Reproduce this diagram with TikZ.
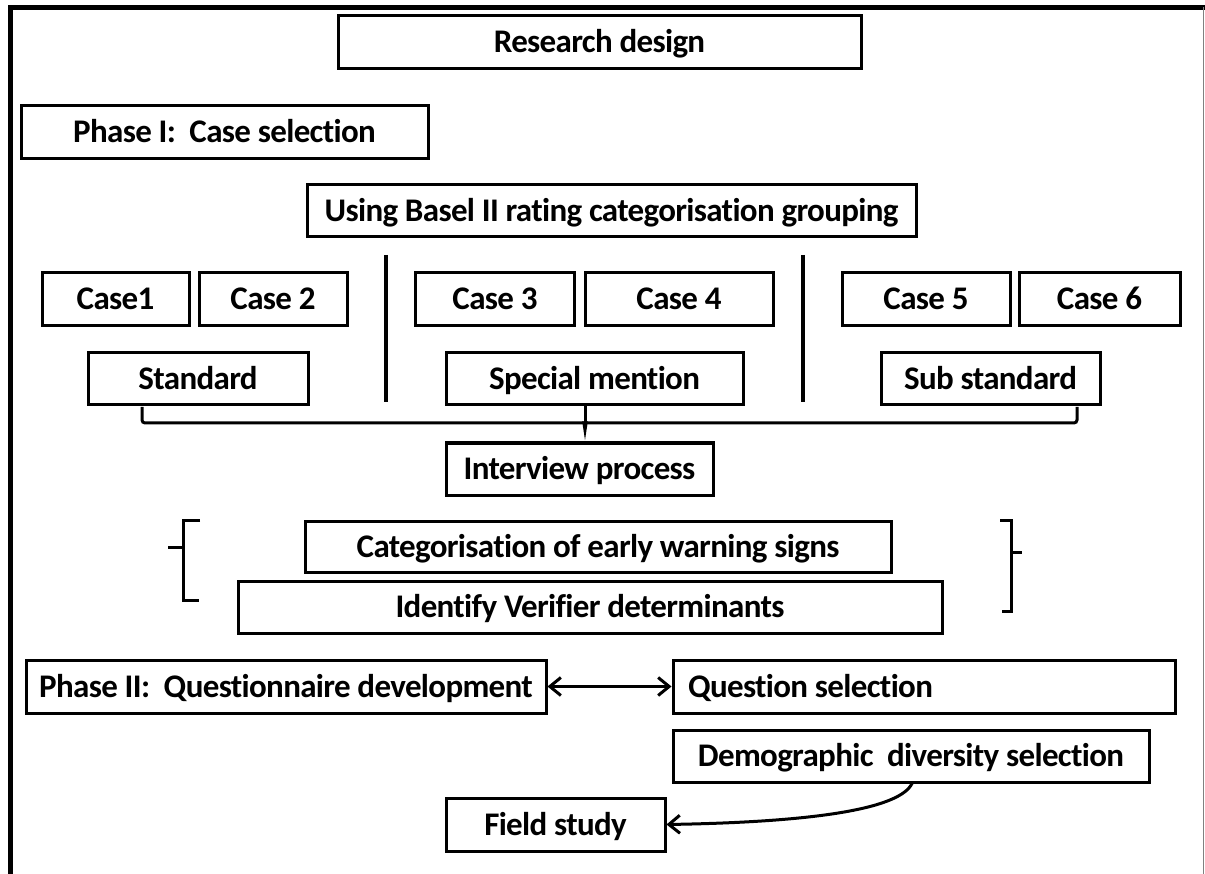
\documentclass[tikz,border=0pt]{standalone}
\usepackage{fontspec}
\setmainfont[Ligatures=CommonOff, LetterSpace=-2]{Carlito}
\usetikzlibrary{arrows.meta}

\tikzset{every picture/.style={line width=3pt}}
\tikzset{
  box/.style={draw, line width=3pt, inner sep=0pt, text height=21pt, text depth=0pt,
    font=\bfseries\fontsize{33}{39}\selectfont},
  bar/.style={line width=3.5pt},
  barb/.tip={Straight Barb[length=11pt,width=18pt,line width=3pt]}
}

\begin{document}
\begin{tikzpicture}[x=1pt,y=1pt,yscale=-1,xscale=1]
\useasboundingbox (0,0) rectangle (1205,874);

% frame
\draw [line width=5pt] (10.5,874) -- (10.5,7.5) -- (1205,7.5) ;
\draw [gray, line width=1.5pt] (1203.5,7.5) -- (1203.5,874) ;

% Phase I
\node [box, minimum width=523pt, minimum height=53pt] (rd) at (599.5,42.5) {Research design};
\node [box, minimum width=407pt, minimum height=53pt] (ph1) at (224.5,132.5) {Phase I:\ \ Case selection};
\node [box, minimum width=609pt, minimum height=52pt] (basel) at (611.5,211) {Using Basel II rating categorisation grouping};

% cases
\node [box, minimum width=147pt, minimum height=53pt] (c1) at (115.5,299.5) {Case1};
\node [box, minimum width=148pt, minimum height=53pt] (c2) at (273,299.5) {Case 2};
\node [box, minimum width=159pt, minimum height=53pt] (c3) at (495,299.5) {Case 3};
\node [box, minimum width=188pt, minimum height=53pt] (c4) at (679,299.5) {Case 4};
\node [box, minimum width=168pt, minimum height=53pt] (c5) at (926,299.5) {Case 5};
\node [box, minimum width=161pt, minimum height=53pt] (c6) at (1099.5,299.5) {Case 6};

% groups
\node [box, minimum width=220pt, minimum height=52pt] (std) at (198,379) {Standard};
\node [box, minimum width=297pt, minimum height=52pt] (sm) at (594.5,379) {Special mention};
\node [box, minimum width=219pt, minimum height=52pt] (ss) at (990.5,379) {Sub standard};

% separators
\draw [bar] (386,255) -- (386,402) ;
\draw [bar] (803,255) -- (803,402) ;

% interview
\node [box, minimum width=267pt, minimum height=52pt] (iv) at (579.5,469) {Interview process};
\node [box, minimum width=586pt, minimum height=51pt] (cat) at (598,546.5) {Categorisation of early warning signs};
\node [box, minimum width=704pt, minimum height=52pt] (idv) at (590,607) {Identify Verifier determinants};

% bracket under groups
\coordinate (jn) at (585,423);
\draw [rounded corners=3pt] (142,407) -- (142,423) -- (1077,423) -- (1077,407) ;
\draw (sm.south -| jn) -- (jn) ;
\draw [-{Triangle[length=20pt,width=5pt]}, line width=2pt] (jn) -- (iv.north -| jn) ;

% braces
\draw (200,520) -- (183,520) -- (183,600) -- (199,600) ;
\draw (168,547) -- (183,547) ;
\draw (1000,520) -- (1011,520) -- (1011,611) -- (1002,611) ;
\draw (1011,552) -- (1022,552) ;

% Phase II
\node [box, minimum width=520pt, minimum height=53pt] (ph2) at (286,686.5) {Phase II:\ \ Questionnaire development};
\node [box, minimum height=53pt, inner xsep=15pt, text width=472pt, align=flush left] (qs) at (924,686.5) {Question selection};
\node [box, minimum width=476pt, minimum height=52pt] (dem) at (911,756) {Demographic\ \ diversity selection};
\node [box, minimum width=219pt, minimum height=53pt] (fs) at (555.5,824.5) {Field study};

\draw [barb-barb] (ph2) -- (qs) ;
\draw [-barb] (dem.south -| 912,0) .. controls (900,808) and (820,822) .. (fs.east) ;
\end{tikzpicture}
\end{document}
